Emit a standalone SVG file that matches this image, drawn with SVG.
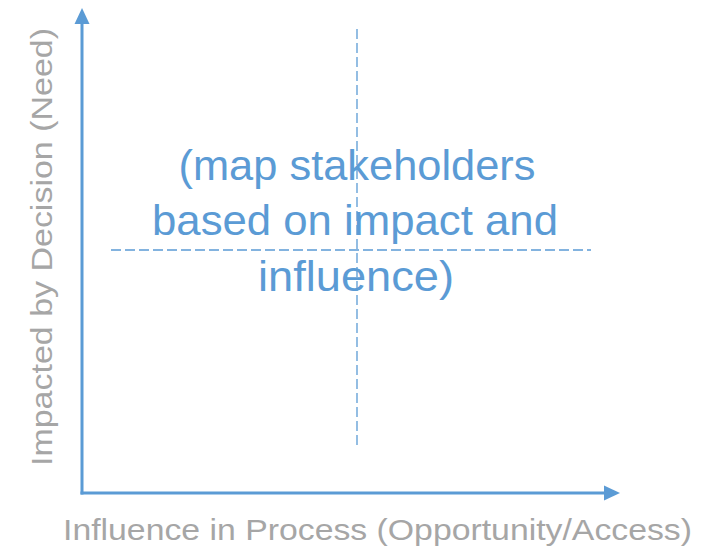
<svg xmlns="http://www.w3.org/2000/svg" width="705" height="548" viewBox="0 0 705 548">
<style>
.axis{stroke:#5b9bd5;stroke-width:3;fill:none}
.head{fill:#5b9bd5;stroke:none}
.dash{stroke:#5b9bd5;stroke-width:1.3;stroke-dasharray:10 4;fill:none}
.lbl{font-family:"Liberation Sans",Arial,sans-serif;font-size:30px;fill:#a6a6a6}
.main{font-family:"Liberation Sans",Arial,sans-serif;font-size:42px;fill:#5b9bd5;text-anchor:middle}
</style>
<rect width="705" height="548" fill="#ffffff"/>
<g id="connectors">
<path class="axis" d="M82,494.5 L82,22"/>
<polygon class="head" points="82,8 74.5,24 89.5,24"/>
<path class="axis" d="M80.5,493 L606,493"/>
<polygon class="head" points="620,493 604,485.5 604,500.5"/>
<path class="dash" d="M357,29 L357,448"/>
<path class="dash" d="M111,250 L591,250"/>
</g>
<g id="y-label">
<text class="lbl" transform="translate(52,466) rotate(-90)" textLength="438" lengthAdjust="spacingAndGlyphs">Impacted by Decision (Need)</text>
</g>
<g id="x-label">
<text class="lbl" x="63" y="540" textLength="629" lengthAdjust="spacingAndGlyphs">Influence in Process (Opportunity/Access)</text>
</g>
<g id="center-text">
<text class="main" x="357" y="180" textLength="357" lengthAdjust="spacingAndGlyphs">(map stakeholders</text>
<text class="main" x="355" y="235" textLength="406" lengthAdjust="spacingAndGlyphs">based on impact and</text>
<text class="main" x="356" y="291" textLength="196" lengthAdjust="spacingAndGlyphs">influence)</text>
</g>
</svg>
